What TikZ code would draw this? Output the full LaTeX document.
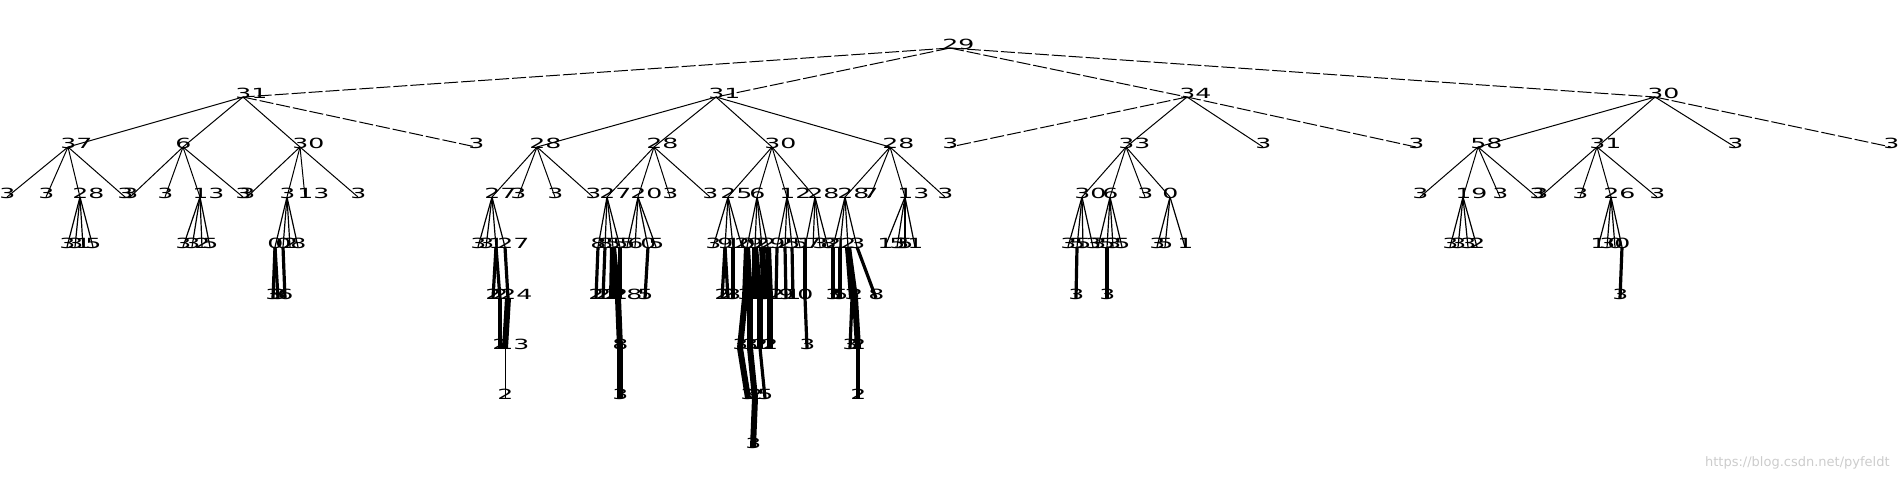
\documentclass[tikz,border=0pt]{standalone}
\usepackage{fontspec}
\setmainfont{DejaVu Sans}
\usepackage{graphicx}
\newcommand\lb[1]{\scalebox{1.8}[1]{#1}}
\newcommand\nd[4]{\coordinate (#1) at (#2,#3+4); \node[lbl] (#1-l) at (#2-8,#3+5) {\lb{#4}};}
\newcommand\kids[4][edge]{\foreach \kx/\kl [count=\kn] in {#4} {\nd{#2\kn}{\kx}{#3}{\kl} \draw[#1] (#2) -- (#2\kn);}}
\begin{document}
\begin{tikzpicture}[x=0.5pt,y=-0.5pt,
 lbl/.style={inner sep=0pt,anchor=base west,font=\fontsize{7}{8}\selectfont},
 edge/.style={line width=0.5pt},
 fan/.style={line width=0.6pt},
 dedge/.style={line width=0.5pt,dash pattern=on 7pt off 1.5pt},
 heavy/.style={line width=1.6pt},
 xheavy/.style={line width=3pt}]
\useasboundingbox (0,0) rectangle (1899,479);
% level 0-1
\nd{r}{950}{44}{29}
\kids[dedge]{r}{93}{243/31,716/31,1187/34,1655/30}
% level 2
\nd{a1}{68}{143}{37}\draw[edge] (r1) -- (a1);
\nd{a2}{183}{143}{6}\draw[edge] (r1) -- (a2);
\nd{a3}{300}{143}{30}\draw[edge] (r1) -- (a3);
\nd{a4}{476}{143}{3}\draw[dedge] (r1) -- (a4);
\nd{b1}{537}{143}{28}\draw[edge] (r2) -- (b1);
\nd{b2}{654}{143}{28}\draw[edge] (r2) -- (b2);
\nd{b3}{772}{143}{30}\draw[edge] (r2) -- (b3);
\nd{b4}{890}{143}{28}\draw[edge] (r2) -- (b4);
\nd{c1}{950}{143}{3}\draw[dedge] (r3) -- (c1);
\nd{c2}{1126}{143}{33}\draw[edge] (r3) -- (c2);
\nd{c3}{1263}{143}{3}\draw[edge] (r3) -- (c3);
\nd{c4}{1416}{143}{3}\draw[dedge] (r3) -- (c4);
\nd{d1}{1478}{143}{58}\draw[edge] (r4) -- (d1);
\nd{d2}{1597}{143}{31}\draw[edge] (r4) -- (d2);
\nd{d3}{1735}{143}{3}\draw[edge] (r4) -- (d3);
\nd{d4}{1891}{143}{3}\draw[dedge] (r4) -- (d4);
% level 3
\kids{a1}{193}{7/3,46/3,80/28,125/3}
\kids{a2}{193}{130/3,165/3,200/13,243/3}
\kids{a3}{193}{247/3,287/3,305/13,358/3}
\kids{b1}{193}{492/27,518/3,555/3,593/3}
\kids{b2}{193}{607/27,638/20,670/3,710/3}
\kids{b3}{193}{728/25,757/6,787/12,815/28}
\kids{b4}{193}{845/28,870/7,905/13,945/3}
\kids{c2}{193}{1082/30,1110/6,1145/3,1170/0}
\kids{d1}{193}{1420/3,1463/19,1500/3,1537/3}
\kids{d2}{193}{1540/3,1580/3,1611/26,1657/3}
% level 4
\kids[fan]{a13}{243}{67/3,75/3,83/1,93/5}
\kids[fan]{a23}{243}{183/3,192/3,202/2,210/5}
\kids[fan]{a32}{243}{275/0,283/0,290/2,298/8}
\kids[fan]{b11}{243}{478/3,486/3,496/1,505/27}
\kids[fan]{b21}{243}{598/8,605/8,613/5,620/5}
\kids[fan]{b22}{243}{627/5,635/6,648/0,656/5}
\kids[fan]{b31}{243}{713/3,725/9,733/1,742/2}
\kids[fan]{b32}{243}{747/0,755/9,762/2,768/2}
\kids[fan]{b33}{243}{777/9,785/2,792/5,800/5}
\kids[fan]{b34}{243}{805/1,813/7,820/3,828/8}
\kids[fan]{b41}{243}{833/2,840/1,848/2,857/3}
\kids[fan]{b43}{243}{885/13,897/5,905/5,915/1}
\kids[fan]{c21}{243}{1068/3,1077/5,1083/5,1093/3}
\kids[fan]{c22}{243}{1098/3,1107/5,1113/3,1122/5}
\kids[fan]{c24}{243}{1157/3,1165/5,1185/1}
\kids[fan]{d12}{243}{1450/3,1458/3,1468/3,1477/2}
\kids[fan]{d23}{243}{1598/1,1607/3,1615/0,1622/0}
% level 5
\kids[heavy]{a321}{294}{273/3,278/3}
\kids[heavy]{a322}{294}{285/6}
\kids[heavy]{b113}{294}{493/2,500/2}
\kids[heavy]{b114}{294}{508/24}
\kids[heavy]{b211}{294}{596/2}
\kids[heavy]{b212}{294}{603/2}
\kids[xheavy]{b213}{294}{612/2,618/28}
\kids[heavy]{b214}{294}{620/2}
\kids[heavy]{b223}{294}{645/5}
\kids[heavy]{b312}{294}{722/2,728/2}
\kids[heavy]{b313}{294}{733/3}
\kids[xheavy]{b321}{294}{745/3,750/3}
\kids[xheavy]{b322}{294}{755/2,760/2}
\kids[xheavy]{b323}{294}{765/5}
\kids[xheavy]{b324}{294}{770/1}
\kids[heavy]{b331}{294}{776/2}
\kids[heavy]{b332}{294}{786/9}
\kids[heavy]{b333}{294}{793/1}
\kids[heavy]{b341}{294}{805/0}
\kids[heavy]{b411}{294}{833/3}
\kids[heavy]{b412}{294}{840/5}
\kids[xheavy]{b413}{294}{852/3,855/2}
\kids[heavy]{b414}{294}{876/8}
\kids[heavy]{c212}{294}{1076/3}
\kids[heavy]{c222}{294}{1107/3}
\kids[heavy]{d234}{294}{1620/3}
% level 6
\kids[heavy]{b1132}{344}{500/2}
\kids[xheavy]{b1141}{344}{505/13}
\kids[xheavy]{b2132}{344}{620/8}
\kids[xheavy]{b3211}{344}{740/3}
\kids[xheavy]{b3212}{344}{750/3}
\kids[xheavy]{b3222}{344}{760/2}
\kids[xheavy]{b3241}{344}{770/2}
\kids[heavy]{b3411}{344}{807/3}
\kids[heavy]{b4131}{344}{850/3}
\kids[xheavy]{b4132}{344}{858/2}
% level 7
\kids[edge]{b11411}{394}{505/2}
\kids[xheavy]{b21321}{394}{620/3}
\kids[xheavy]{b32111}{394}{748/3}
\kids[xheavy]{b32121}{394}{755/2}
\kids[heavy]{b32221}{394}{765/5}
\kids[heavy]{b41321}{394}{858/2}
% level 8
\kids[xheavy]{b321211}{443}{753/3}
% watermark
\node[inner sep=0pt,anchor=base east,font=\fontsize{6.5}{7}\selectfont,text=black!20] (wm) at (1890,466) {https://blog.csdn.net/pyfeldt};
\end{tikzpicture}
\end{document}
